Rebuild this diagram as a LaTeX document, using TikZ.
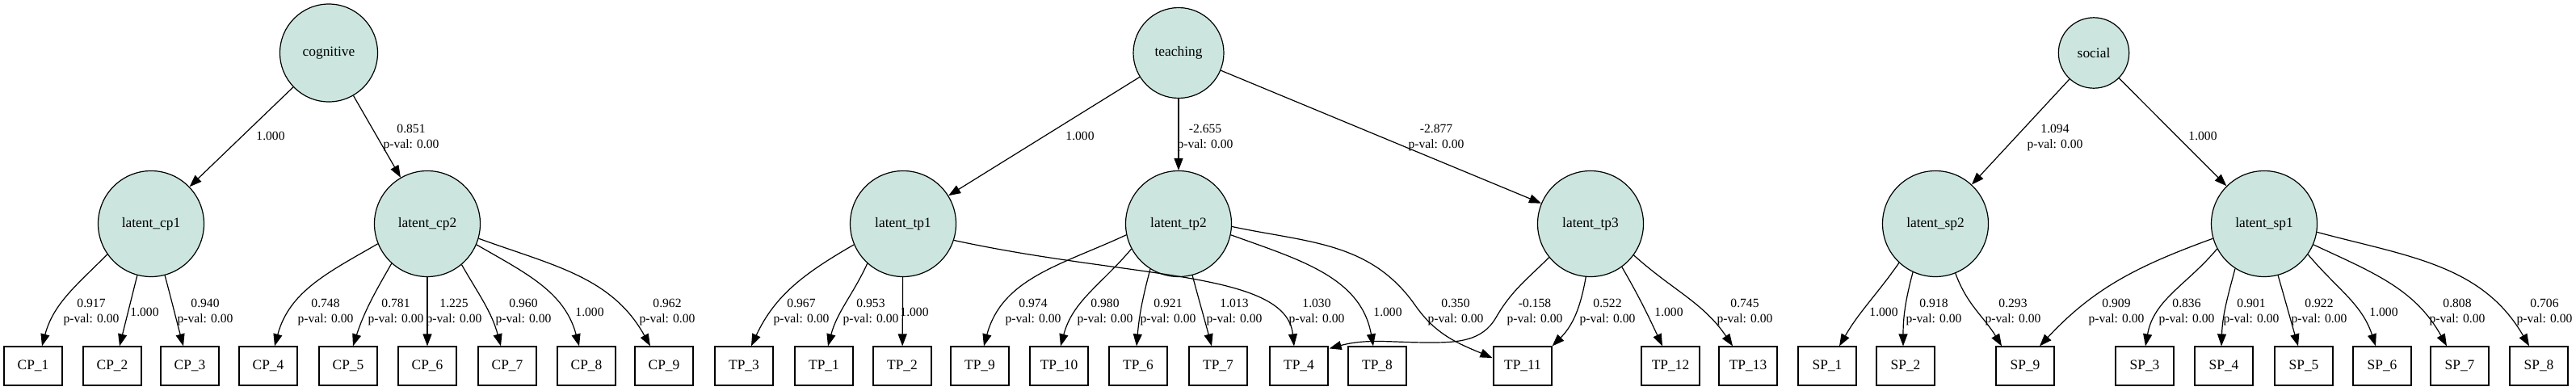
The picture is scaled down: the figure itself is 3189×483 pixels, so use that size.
\documentclass[tikz,border=0pt]{standalone}
\usepackage{fontspec}
\setmainfont{Liberation Serif}
\usetikzlibrary{arrows.meta,calc}
\definecolor{latfill}{HTML}{CCE6DF}
\tikzset{
  lat/.style={circle,draw,fill=latfill,inner sep=0pt,minimum size=65.5pt,line width=0.6pt,font=\fontsize{8.7}{10}\selectfont},
  obs/.style={rectangle,draw,inner sep=0pt,minimum width=36pt,minimum height=24pt,line width=0.6pt,font=\fontsize{8.7}{10}\selectfont},
  lbl/.style={align=center,inner sep=0pt,font=\fontsize{7.8}{9.5}\selectfont},
  loading/.style={-{Triangle[length=7.5pt,width=5.5pt]},line width=0.6pt},
}
\begin{document}
\begin{tikzpicture}[x=0.5pt,y=-0.5pt]
        \fill[white] (0,0) rectangle (3189,483);
        \useasboundingbox (0,0) rectangle (3189,483);
        %% top factors
        \node[lat,minimum size=60.5pt] (cognitive) at (407,65.5) {cognitive};
        \node[lat,minimum size=56pt] (teaching) at (1459,65.5) {teaching};
        \node[lat,minimum size=43.7pt] (social) at (2592,65.5) {social};
        %% latent factors
        \foreach \n/\t/\x in {lcp1/cp1/187,lcp2/cp2/529,ltp1/tp1/1118,ltp2/tp2/1459,ltp3/tp3/1969,lsp2/sp2/2396,lsp1/sp1/2803}
            \node[lat] (\n) at (\x,277) {latent\_\t};
        %% observed items
        \foreach \p/\i/\x in {CP/1/41,CP/2/139,CP/3/235,CP/4/332,CP/5/431,CP/6/529,CP/7/628,CP/8/726,CP/9/822,
                              TP/3/921,TP/1/1020,TP/2/1117,TP/9/1213,TP/10/1311,TP/6/1409,TP/7/1508,TP/4/1608,TP/8/1705,
                              TP/11/1885,TP/12/2068,TP/13/2164,
                              SP/1/2262,SP/2/2359,SP/9/2507,SP/3/2655,SP/4/2753,SP/5/2852,SP/6/2949,SP/7/3045,SP/8/3143}
            \node[obs] (\p\i) at (\x,453) {\p\_\i};
        %% factor -> latent
        \foreach \a/\b in {cognitive/lcp1,cognitive/lcp2,teaching/ltp1,teaching/ltp2,teaching/ltp3,social/lsp2,social/lsp1}
            \draw[loading] (\a) -- (\b);
        %% straight loadings
        \foreach \a/\b in {lcp2/CP6,ltp1/TP2}
            \draw[loading] (\a) -- (\b);
        %% curved loadings: source/anchor/out/in/target/shift
        \foreach \s/\a/\o/\i/\d/\dx in {lcp1/215/225/75/CP1/11,lcp1/255/256/76/CP2/9,lcp1/285/285/105/CP3/-8,
                                        lcp2/202/210/75/CP4/8,lcp2/228/240/72/CP5/6,lcp2/310/300/105/CP7/-8,
                                        lcp2/337/330/105/CP8/-9,lcp2/344/340/119/CP9/-17,
                                        ltp1/203/210/65/TP3/9,ltp1/228/245/75/TP1/5,
                                        ltp2/192/205/75/TP9/5,ltp2/208/230/75/TP10/2,ltp2/238/255/85/TP6/-2,
                                        ltp2/285/285/105/TP7/-8,ltp2/348/340/100/TP8/-5,
                                        ltp3/306/300/115/TP12/-10,ltp3/324/318/124/TP13/-19,
                                        lsp2/227/235/60/SP1/15,lsp2/245/255/90/SP2/-3,lsp2/292/290/121/SP9/-29,
                                        lsp1/196/200/47/SP9/18,lsp1/208/230/80/SP3/1,lsp1/237/255/88/SP4/-3,
                                        lsp1/285/286/106/SP5/-7,lsp1/325/310/108/SP6/-8,lsp1/337/335/119/SP7/-16,
                                        lsp1/351/345/120/SP8/-12}
            \draw[loading] (\s.\a) to[out=\o,in=\i] ($(\d.north)+(\dx,0)$);
        %% cross loadings
        \draw[loading] (ltp1.342) .. controls (1400,345) and (1592,335) .. ($(TP4.north)+(-6,0)$);
        \draw[loading] (ltp2.357) to[out=-12,in=125] (1752,378) to[out=-55,in=157] ($(TP11.west)+(-1,-10)$);
        \draw[loading] (ltp3.219) to[out=225,in=60] (1852,393) to[out=240,in=0] (1770,424)
            to[out=180,in=15] ($(TP4.north east)+(1,3)$);
        \draw[loading] (ltp3.265) to[out=260,in=45] (TP11.north east);
        %% labels, upper row
        \foreach \x/\y/\t [count=\k] in {335/168/1.000,509/170/0.851\\p-val: 0.00,1337/168/1.000,
                                         1492/170/-2.655\\p-val: 0.00,1778/170/-2.877\\p-val: 0.00,
                                         2544/170/1.094\\p-val: 0.00,2727/168/1.000}
            \node[lbl] (top\k) at (\x,\y) {\t};
        %% labels, lower row
        \foreach \x/\t [count=\k] in {113/0.917\\p-val: 0.00,179/1.000,254/0.940\\p-val: 0.00,
                                      403/0.748\\p-val: 0.00,490/0.781\\p-val: 0.00,562/1.225\\p-val: 0.00,
                                      648/0.960\\p-val: 0.00,730/1.000,826/0.962\\p-val: 0.00,
                                      992/0.967\\p-val: 0.00,1078/0.953\\p-val: 0.00,1132/1.000,
                                      1279/0.974\\p-val: 0.00,1368/0.980\\p-val: 0.00,1446/0.921\\p-val: 0.00,
                                      1528/1.013\\p-val: 0.00,1630/1.030\\p-val: 0.00,1718/1.000,
                                      1802/0.350\\p-val: 0.00,1900/-0.158\\p-val: 0.00,1990/0.522\\p-val: 0.00,
                                      2066/1.000,2160/0.745\\p-val: 0.00,
                                      2332/1.000,2394/0.918\\p-val: 0.00,2492/0.293\\p-val: 0.00,
                                      2620/0.909\\p-val: 0.00,2707/0.836\\p-val: 0.00,2787/0.901\\p-val: 0.00,
                                      2871/0.922\\p-val: 0.00,2951/1.000,3042/0.808\\p-val: 0.00,
                                      3150/0.706\\p-val: 0.00}
            \node[lbl] (low\k) at (\x,386.5) {\t};
\end{tikzpicture}
\end{document}
